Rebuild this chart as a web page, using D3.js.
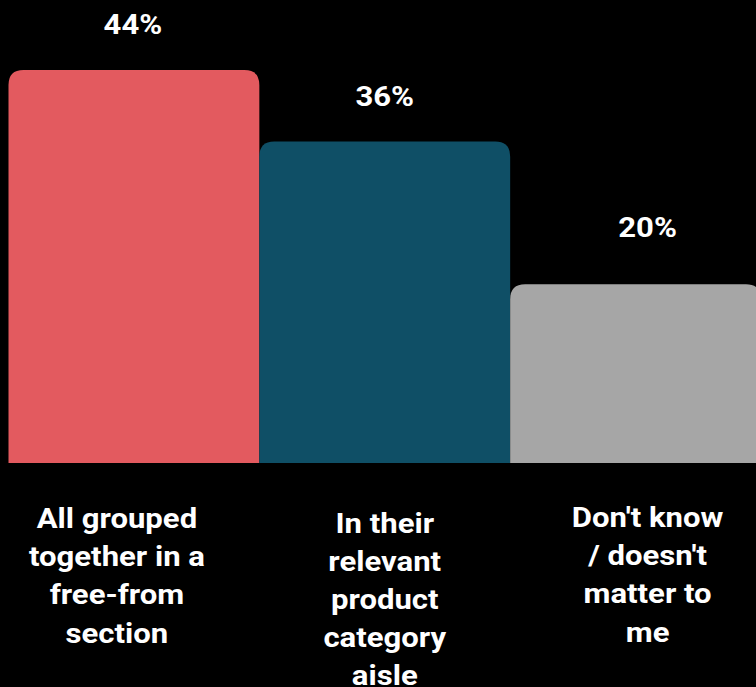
<!DOCTYPE html>
<html>
<head>
<meta charset="utf-8">
<script src="https://cdn.jsdelivr.net/npm/d3@7/dist/d3.min.js"></script>
<style>
  html, body { margin: 0; padding: 0; background: #000; }
  svg { display: block; }
</style>
</head>
<body>
<svg id="chart" width="756" height="687"></svg>
<script>
const categories = [
  ["All grouped", "together in a", "free-from", "section"],
  ["In their", "relevant", "product", "category", "aisle"],
  ["Don't know", "/ doesn't", "matter to", "me"]
];
const values = [44, 36, 20];
const valueLabels = ["44%", "36%", "20%"];
const colors = ["#E35A5F", "#0F4F66", "#A6A6A6"];

// styling nudges (pixels) to match the original label placement
const catNudgeX = [-17, 0, 12];
const catNudgeY = [0, 4.5, -1];
const valNudgeX = [-1, 0, 12];
const valGap = [36, 35, 47];

const W = 756, H = 687;
const svg = d3.select("#chart");

const x = d3.scaleBand().domain(d3.range(values.length)).range([8.5, 761]).padding(0);
const y = d3.scaleLinear().domain([0, 44]).range([463, 70]);

const r = 15;
function topRounded(x0, y0, w, h, r) {
  const rr = Math.min(r, w / 2, h);
  return `M${x0},${y0 + h}V${y0 + rr}Q${x0},${y0} ${x0 + rr},${y0}H${x0 + w - rr}Q${x0 + w},${y0} ${x0 + w},${y0 + rr}V${y0 + h}Z`;
}

svg.append("g").selectAll("path")
  .data(values)
  .join("path")
  .attr("d", (d, i) => topRounded(x(i), y(d), x.bandwidth(), y(0) - y(d), r))
  .attr("fill", (d, i) => colors[i]);

const sx = 1.11;

svg.append("g").selectAll("text")
  .data(values)
  .join("text")
  .attr("transform", (d, i) => `translate(${x(i) + x.bandwidth() / 2 + valNudgeX[i]},${y(d) - valGap[i]}) scale(${sx},1)`)
  .attr("text-anchor", "middle")
  .attr("fill", "#fff")
  .attr("font-family", "Roboto, sans-serif")
  .attr("font-weight", 700)
  .attr("font-size", 28)
  .text((d, i) => valueLabels[i]);

const lab = svg.append("g").selectAll("text")
  .data(categories)
  .join("text")
  .attr("text-anchor", "middle")
  .attr("fill", "#fff")
  .attr("font-family", "Roboto, sans-serif")
  .attr("font-weight", 700)
  .attr("font-size", 28)
  .attr("transform", (d, i) => `translate(${x(i) + x.bandwidth() / 2 + catNudgeX[i]},${528 + catNudgeY[i]}) scale(${sx},1)`);

lab.selectAll("tspan")
  .data(d => d)
  .join("tspan")
  .attr("x", 0)
  .attr("y", (d, j) => j * 38.2)
  .text(d => d);
</script>
</body>
</html>
